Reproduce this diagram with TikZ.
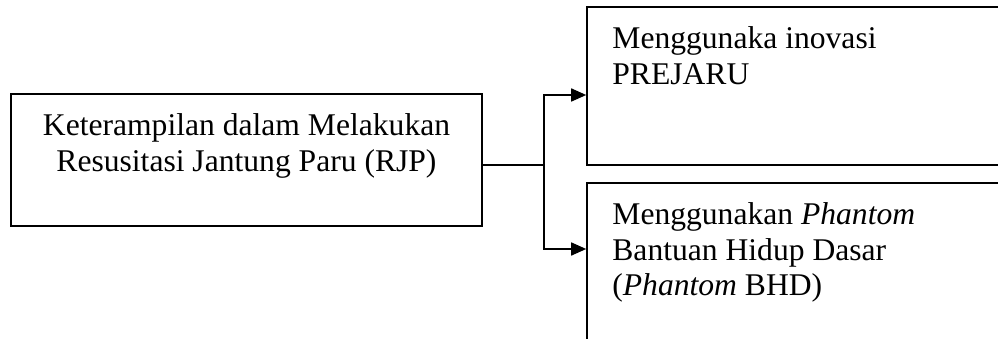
\documentclass[tikz,border=0pt]{standalone}
\usepackage{fontspec}
\setmainfont{Liberation Serif}
\usetikzlibrary{arrows.meta}
\tikzset{>={Triangle[length=15pt,width=13pt]},
kotak/.style={draw, line width=1.6pt, inner sep=0pt},
teks/.style={inner sep=0pt, font=\fontsize{31.6}{35.8}\selectfont},
garis/.style={line width=1.6pt}}

\begin{document}
\begin{tikzpicture}[x=1pt,y=1pt]
\useasboundingbox (0,0) rectangle (998,338);
\clip (0,0) rectangle (998,338);
\node[kotak, minimum width=471pt, minimum height=132pt] (rjp) at (246.5,178) {};
\node[kotak, minimum width=433pt, minimum height=158pt] (prejaru) at (803.5,252) {};
\node[kotak, minimum width=433pt, minimum height=177pt] (phantom) at (803.5,66.5) {};
\node[teks, align=center, anchor=north] (rjpteks) at ([yshift=-20pt]rjp.north) {Keterampilan dalam Melakukan\\Resusitasi Jantung Paru (RJP)};
\node[teks, align=left, anchor=north west] (prejaruteks) at ([xshift=26pt,yshift=-20pt]prejaru.north west) {Menggunaka inovasi\\PREJARU};
\node[teks, align=left, anchor=north west] (phantomteks) at ([xshift=26pt,yshift=-20pt]phantom.north west) {Menggunakan \textit{Phantom}\\Bantuan Hidup Dasar\\(\textit{Phantom} BHD)};
\draw[garis] ([yshift=-5pt]rjp.east) -- ++(61,0) coordinate (cabang);
\draw[garis,->] (cabang) |- ([yshift=-9pt]prejaru.west);
\draw[garis,->] (cabang) |- ([yshift=22.5pt]phantom.west);
\end{tikzpicture}
\end{document}
